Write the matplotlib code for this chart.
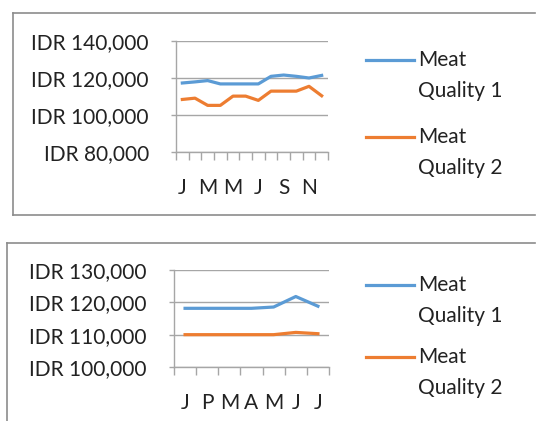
import matplotlib
matplotlib.use('Agg')
import matplotlib.pyplot as plt
from matplotlib.lines import Line2D
from matplotlib.ticker import FuncFormatter

plt.rcParams['font.family'] = ['Lato', 'DejaVu Sans']

# top chart: Jan..Dec
months_top = ["J", "F", "M", "A", "M", "J", "J", "A", "S", "O", "N", "D"]
top_q1 = [117300, 117900, 118600, 116800, 116800, 116800, 116800, 120900, 121600, 120900, 120000, 121400]
top_q2 = [108400, 109100, 105200, 105200, 110200, 110200, 107900, 112900, 112900, 112900, 115500, 110400]
top_yticks = [80000, 100000, 120000, 140000]

# bottom chart: Januari..Juli
months_bot = ["J", "P", "M", "A", "M", "J", "J"]
bot_q1 = [118150, 118150, 118150, 118150, 118550, 121800, 118800]
bot_q2 = [110000, 110000, 110000, 110000, 110000, 110700, 110300]
bot_yticks = [100000, 110000, 120000, 130000]

series_names = ["Meat\nQuality 1", "Meat\nQuality 2"]
BLUE = "#5B9BD5"
ORANGE = "#ED7D31"
GRID = "#a6a6a6"
W, H = 537, 421

fig = plt.figure(figsize=(W / 100, H / 100), dpi=100)


def fx(px):
    return px / W


def fy(py):
    return 1 - py / H


def draw_panel(rect, labels, q1, q2, yticks, step):
    ax = fig.add_axes(rect)
    n = len(labels)
    xs = list(range(n))
    ax.plot(xs, q1, color=BLUE, lw=2.3, solid_joinstyle='round')
    ax.plot(xs, q2, color=ORANGE, lw=2.3, solid_joinstyle='round')
    ax.set_xlim(-0.5, n - 0.5)
    ax.set_ylim(yticks[0], yticks[-1])
    ax.set_yticks(yticks)
    ax.yaxis.set_major_formatter(FuncFormatter(lambda v, p: "IDR {:,.0f}".format(v)))
    ax.grid(axis='y', color=GRID, lw=1)
    ax.set_axisbelow(True)
    for s in ['top', 'right']:
        ax.spines[s].set_visible(False)
    for s in ['left', 'bottom']:
        ax.spines[s].set_color(GRID)
        ax.spines[s].set_linewidth(1)
    shown = xs[::step]
    ax.set_xticks(shown)
    ax.set_xticklabels([labels[i] for i in shown])
    ax.set_xticks([i - 0.5 for i in range(n + 1)], minor=True)
    ax.tick_params(axis='x', which='major', length=0, pad=19, labelsize=15, colors='#222222')
    ax.tick_params(axis='x', which='minor', length=5.5, color=GRID, width=1)
    ax.tick_params(axis='y', length=3.6, color=GRID, width=1, pad=16, labelsize=15, labelcolor='#222222')
    return ax


draw_panel([fx(176), fy(152), fx(328 - 176), (152 - 41) / H],
           months_top, top_q1, top_q2, top_yticks, 2)
draw_panel([fx(174), fy(367), fx(329 - 174), (367 - 270) / H],
           months_bot, bot_q1, bot_q2, bot_yticks, 1)


def legend(y1, y2):
    for y, c, name in [(y1, BLUE, series_names[0]), (y2, ORANGE, series_names[1])]:
        fig.add_artist(Line2D([fx(366), fx(414)], [fy(y), fy(y)], color=c, lw=2.3,
                              transform=fig.transFigure))
        lines = name.split("\n")
        fig.text(fx(418), fy(y), lines[0], fontsize=15, va='center', ha='left', color='#222222')
        fig.text(fx(418), fy(y + 31), lines[1], fontsize=15, va='center', ha='left', color='#222222')


legend(60, 137)
legend(285, 357)

# chart frames
BORDER = "#8c8c8c"
for xs_, ys_ in [([13, 535], [12.5, 12.5]), ([13, 13], [12.5, 215]), ([13, 535], [215, 215]),
                 ([7.5, 535], [243, 243]), ([7.5, 7.5], [243, 421])]:
    fig.add_artist(Line2D([fx(v) for v in xs_], [fy(v) for v in ys_], color=BORDER, lw=1.2,
                          transform=fig.transFigure))

fig.savefig("out.png", dpi=100)
